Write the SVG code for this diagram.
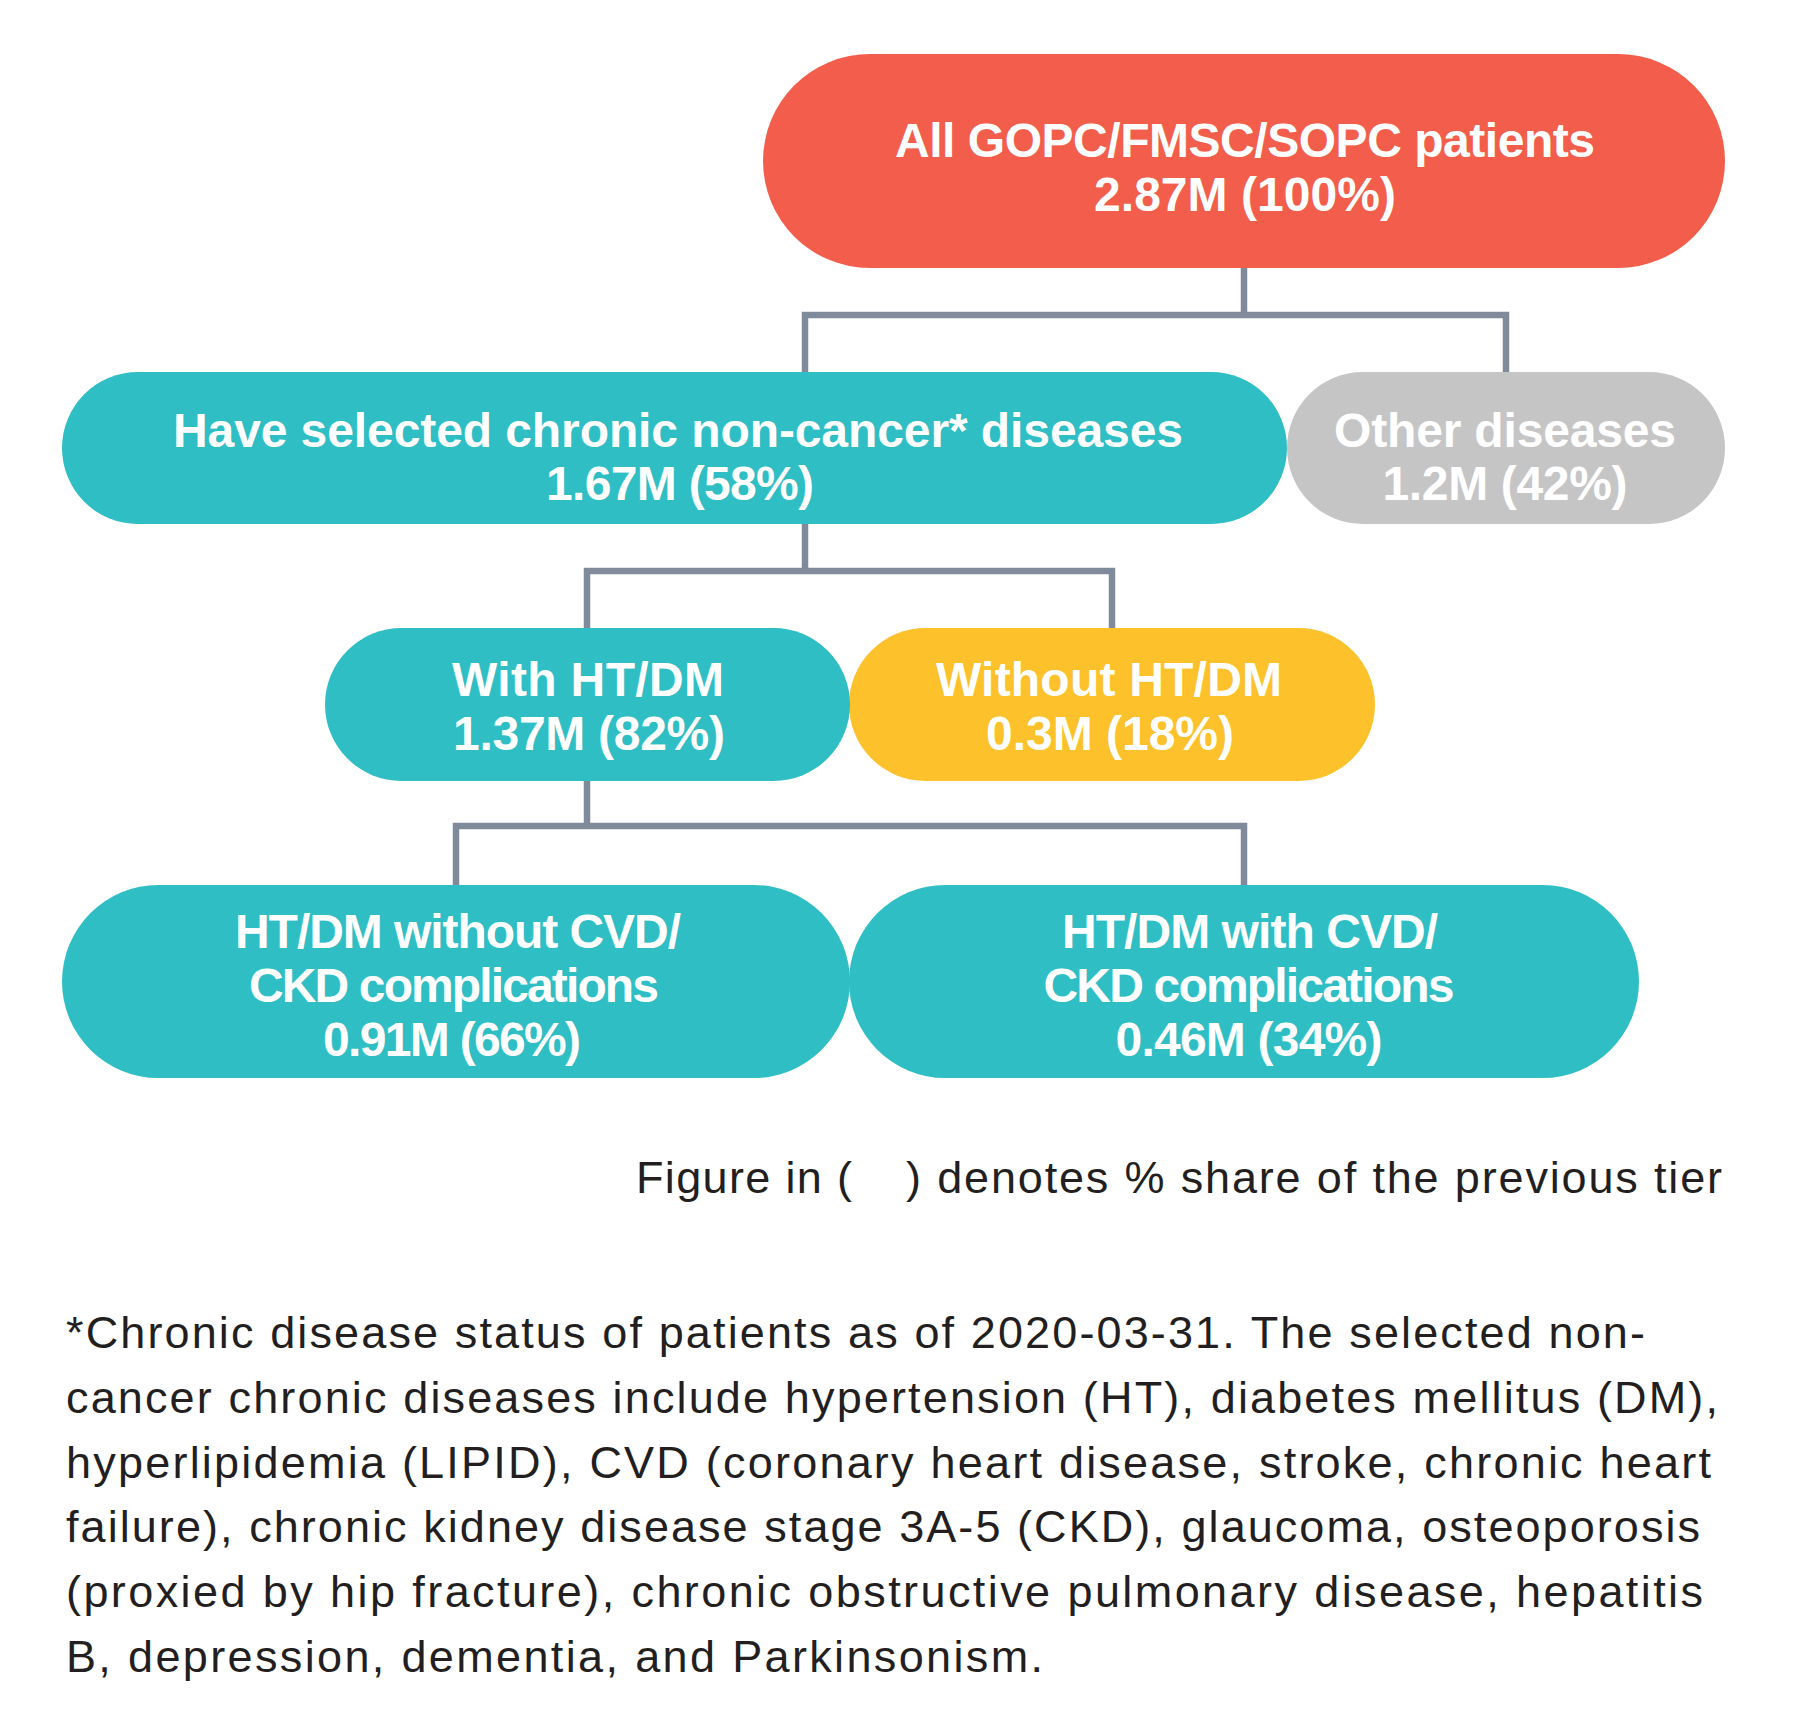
<svg xmlns="http://www.w3.org/2000/svg" width="1800" height="1728" viewBox="0 0 1800 1728">
<style>
.lbl{font-family:"Liberation Sans",Arial,sans-serif;font-weight:bold;font-size:48px;fill:#ffffff;text-anchor:middle}
.note{font-family:"Liberation Sans",Arial,sans-serif;font-size:45px;fill:#231f20}
.para{font-family:"Liberation Sans",Arial,sans-serif;font-size:45px;fill:#231f20}
.conn{fill:none;stroke:#7f8a9a;stroke-width:6.5;stroke-linejoin:miter;stroke-linecap:butt}
</style>
<rect width="1800" height="1728" fill="#ffffff"/>
<g id="connectors">
<path class="conn" d="M805 372 V315 H1506 V372 M1244 267 V315"/>
<path class="conn" d="M587 628 V571 H1112 V628 M805 524 V571"/>
<path class="conn" d="M456 885 V826 H1244 V885 M587 781 V826"/>
</g>
<g id="node-all">
<rect x="763" y="54" width="962" height="214" rx="107" ry="107" fill="#f25e4b"/>
<text class="lbl" x="1245" y="157" textLength="700">All GOPC/FMSC/SOPC patients</text>
<text class="lbl" x="1245" y="211" textLength="302">2.87M (100%)</text>
</g>
<g id="node-other">
<rect x="1287" y="372" width="438" height="152" rx="76" ry="76" fill="#c6c5c6"/>
<text class="lbl" x="1505" y="447" textLength="342">Other diseases</text>
<text class="lbl" x="1505" y="500" textLength="245">1.2M (42%)</text>
</g>
<g id="node-chronic">
<rect x="62" y="372" width="1225" height="152" rx="76" ry="76" fill="#2ebec4"/>
<text class="lbl" x="678" y="447" textLength="1010">Have selected chronic non-cancer* diseases</text>
<text class="lbl" x="680" y="500" textLength="268">1.67M (58%)</text>
</g>
<g id="node-without">
<rect x="849" y="628" width="526" height="153" rx="76.5" ry="76.5" fill="#fdc22b"/>
<text class="lbl" x="1109" y="696" textLength="346">Without HT/DM</text>
<text class="lbl" x="1110" y="750" textLength="248">0.3M (18%)</text>
</g>
<g id="node-with">
<rect x="325" y="628" width="525" height="153" rx="76.5" ry="76.5" fill="#2ebec4"/>
<text class="lbl" x="588" y="696" textLength="272">With HT/DM</text>
<text class="lbl" x="589" y="750" textLength="272">1.37M (82%)</text>
</g>
<g id="node-with-cvd">
<rect x="849" y="885" width="790" height="193" rx="96.5" ry="96.5" fill="#2ebec4"/>
<text class="lbl" x="1250" y="948" textLength="376">HT/DM with CVD/</text>
<text class="lbl" x="1249" y="1002" textLength="411">CKD complications</text>
<text class="lbl" x="1249" y="1056" textLength="267">0.46M (34%)</text>
</g>
<g id="node-without-cvd">
<rect x="62" y="885" width="788" height="193" rx="96.5" ry="96.5" fill="#2ebec4"/>
<text class="lbl" x="458" y="948" textLength="446">HT/DM without CVD/</text>
<text class="lbl" x="454" y="1002" textLength="410">CKD complications</text>
<text class="lbl" x="452" y="1056" textLength="258">0.91M (66%)</text>
</g>
<g id="legend">
<text class="note" x="636" y="1193" textLength="216">Figure in (</text>
<text class="note" x="906" y="1193" textLength="816">) denotes % share of the previous tier</text>
</g>
<g id="footnote">
<text class="para" x="66" y="1348" textLength="1579">*Chronic disease status of patients as of 2020-03-31. The selected non-</text>
<text class="para" x="66" y="1413" textLength="1652">cancer chronic diseases include hypertension (HT), diabetes mellitus (DM),</text>
<text class="para" x="66" y="1478" textLength="1645">hyperlipidemia (LIPID), CVD (coronary heart disease, stroke, chronic heart</text>
<text class="para" x="66" y="1542" textLength="1634">failure), chronic kidney disease stage 3A-5 (CKD), glaucoma, osteoporosis</text>
<text class="para" x="66" y="1607" textLength="1637">(proxied by hip fracture), chronic obstructive pulmonary disease, hepatitis</text>
<text class="para" x="66" y="1672" textLength="977">B, depression, dementia, and Parkinsonism.</text>
</g>
</svg>
